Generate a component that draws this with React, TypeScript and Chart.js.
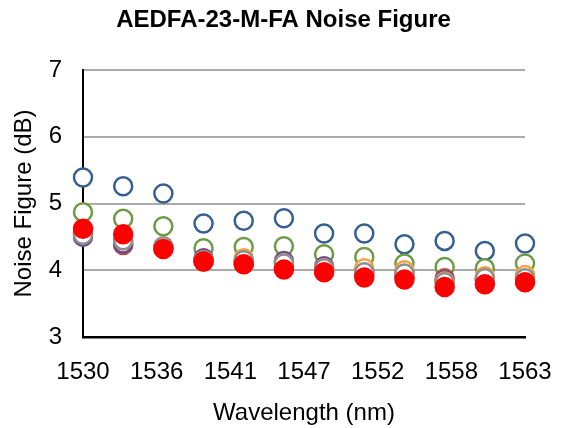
import React, { useEffect, useRef } from "react";
import { Chart, registerables } from "chart.js";

Chart.register(...registerables);

const wavelengths = [1530, 1533, 1536, 1539, 1542, 1545, 1548, 1551, 1554, 1557, 1560, 1563];
const blueSeries = [5.39, 5.26, 5.15, 4.7, 4.74, 4.78, 4.55, 4.55, 4.39, 4.44, 4.29, 4.4];
const greenSeries = [4.87, 4.77, 4.66, 4.33, 4.35, 4.36, 4.24, 4.2, 4.1, 4.05, 4.03, 4.1];
const darkRedSeries = [4.55, 4.38, 4.33, 4.13, 4.1, 4.05, 3.99, 3.95, 3.9, 3.88, 3.85, 3.87];
const purpleSeries = [4.5, 4.4, 4.35, 4.18, 4.14, 4.14, 4.06, 4.0, 3.97, 3.85, 3.87, 3.9];
const orangeSeries = [4.57, 4.45, 4.34, 4.15, 4.18, 4.1, 4.03, 4.03, 4.0, 3.83, 3.91, 3.93];
const graySeries = [4.53, 4.45, 4.36, 4.15, 4.15, 4.1, 4.03, 3.97, 3.95, 3.82, 3.88, 3.88];
const redSeries = [4.62, 4.54, 4.32, 4.13, 4.09, 4.01, 3.97, 3.89, 3.86, 3.75, 3.79, 3.82];

const yTicks = [3, 4, 5, 6, 7];
const xTickStep = 5.5;

const FONT = "'Liberation Sans', Arial, Helvetica, sans-serif";

export default function App() {
  const ref = useRef<HTMLCanvasElement | null>(null);

  useEffect(() => {
    if (!ref.current) return;
    const mk = (label: string, vals: number[], border: string, fill: string, order: number) => ({
      label,
      data: wavelengths.map((w, i) => ({ x: w, y: vals[i] })),
      borderColor: border,
      backgroundColor: fill,
      pointRadius: 9,
      pointBorderWidth: 2.5,
      pointHoverRadius: 9,
      showLine: false,
      clip: false as any,
      order,
      xAxisID: "x",
      yAxisID: "y",
    });
    const chart = new Chart(ref.current, {
      type: "scatter",
      data: {
        datasets: [
          mk("S1", blueSeries, "#365F91", "#FFFFFF", 7),
          mk("S2", greenSeries, "#6E9B45", "#FFFFFF", 6),
          mk("S3", darkRedSeries, "#B8494A", "#FFFFFF", 5),
          mk("S4", purpleSeries, "#6C4A8A", "#FFFFFF", 4),
          mk("S5", orangeSeries, "#F0A540", "#FFFFFF", 3),
          mk("S6", graySeries, "#8E8E8E", "#FFFFFF", 2),
          mk("S7", redSeries, "#FF0000", "#FF0000", 1),
        ],
      },
      options: {
        responsive: false,
        animation: false,
        layout: { padding: { left: 0, right: 0, top: 0, bottom: 0 } },
        plugins: {
          legend: { display: false },
          tooltip: { enabled: false },
          title: {
            display: true,
            text: "AEDFA-23-M-FA Noise Figure",
            color: "#000",
            font: { family: FONT, size: 24, weight: "bold" },
            padding: { top: 6, bottom: 35.2 },
          },
        },
        scales: {
          x: {
            type: "linear",
            min: wavelengths[0],
            max: wavelengths[wavelengths.length - 1],
            afterFit: (s: any) => {
              s.height = 91;
            },
            afterBuildTicks: (s: any) => {
              const t = [];
              for (let v = wavelengths[0]; v <= wavelengths[wavelengths.length - 1] + 1e-6; v += xTickStep) t.push({ value: v });
              s.ticks = t;
            },
            ticks: {
              color: "#000",
              font: { family: FONT, size: 24 },
              padding: 0,
              maxRotation: 0,
              autoSkip: false,
              callback: (v: any) => String(Math.round(Number(v))),
            },
            grid: {
              display: true,
              drawOnChartArea: false,
              drawTicks: true,
              tickLength: 21,
              color: "rgba(0,0,0,0)",
            },
            border: { display: true, color: "#000", width: 2.5 },
            title: {
              display: true,
              text: "Wavelength (nm)",
              color: "#000",
              font: { family: FONT, size: 24 },
              padding: { top: 0, bottom: 0 },
            },
          },
          y: {
            min: 3,
            max: 7,
            afterFit: (s: any) => {
              s.width = 83;
            },
            afterBuildTicks: (s: any) => {
              s.ticks = yTicks.map((v) => ({ value: v }));
            },
            ticks: {
              color: "#000",
              font: { family: FONT, size: 24 },
              padding: 21,
            },
            grid: { color: "#ABABAB", lineWidth: 2, drawTicks: false },
            border: { display: true, color: "#000", width: 2 },
            title: {
              display: true,
              text: "Noise Figure (dB)",
              color: "#000",
              font: { family: FONT, size: 24 },
              padding: { top: 10, bottom: 0 },
            },
          },
          yRightSpacer: {
            type: "linear",
            position: "right",
            min: 3,
            max: 7,
            display: true,
            afterFit: (s: any) => {
              s.width = 42;
            },
            ticks: { display: false },
            grid: { display: false, drawTicks: false },
            border: { display: false },
          },
        },
      },
    });
    return () => chart.destroy();
  }, []);

  return (
    <div style={{ position: "fixed", left: 0, top: 0, width: 567, height: 428, background: "#fff" }}>
      <canvas ref={ref} width={567} height={428} style={{ display: "block" }} />
    </div>
  );
}
